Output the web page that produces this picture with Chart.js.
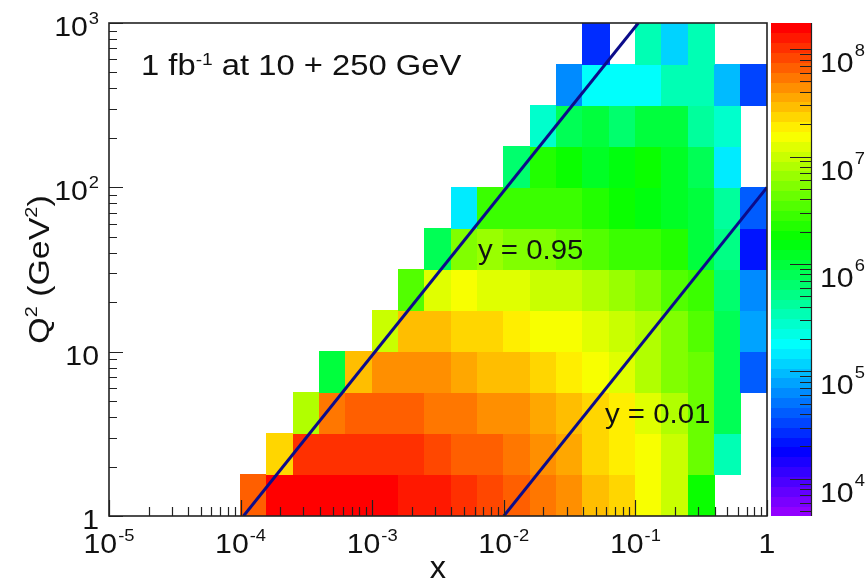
<!DOCTYPE html>
<html>
<head>
<meta charset="utf-8">
<script src="https://cdn.jsdelivr.net/npm/chart.js@4.4.0/dist/chart.umd.min.js"></script>
<style>
  html, body { margin: 0; padding: 0; background: #fff; }
  #wrap { width: 865px; height: 584px; }
</style>
</head>
<body>
<div id="wrap"><canvas id="myChart" width="865" height="584"></canvas></div>
<script>
// x bin edges, 0.2 decade wide, from 1e-4 to 1
const xEdges = [1e-4, 1.585e-4, 2.512e-4, 3.981e-4, 6.310e-4, 1e-3, 1.585e-3, 2.512e-3, 3.981e-3, 6.310e-3,
  1e-2, 1.585e-2, 2.512e-2, 3.981e-2, 6.310e-2, 0.1, 0.1585, 0.2512, 0.3981, 0.6310, 1];
// Q2 bin edges (GeV^2), 0.25 decade wide, from 1 to 1000
const q2Edges = [1, 1.778, 3.162, 5.623, 10, 17.78, 31.62, 56.23, 100, 177.8, 316.2, 562.3, 1000];

// events per bin, one array per Q2 bin (low to high), one value per x bin
const q2Bin1 = [7.4e7, 1.55e8, 1.55e8, 1.55e8, 1.55e8, 1.5e8, 1.3e8, 1.15e8, 1.1e8, 9e7, 6.4e7, 5e7, 4e7, 3e7, 2.2e7, 1.6e7, 1.05e7, 2.0e6, null, null];
const q2Bin2 = [null, 2.6e7, 1.0e8, 1.0e8, 1.0e8, 1.0e8, 1.0e8, 8.6e7, 7.4e7, 6.7e7, 5.8e7, 4.4e7, 3.5e7, 2.6e7, 1.9e7, 1.6e7, 1.04e7, 4.2e6, 3.2e5, null];
const q2Bin3 = [null, null, 7.7e6, 5.8e7, 6.4e7, 6.4e7, 6.4e7, 5.5e7, 5.5e7, 4.7e7, 4.0e7, 3.5e7, 3.0e7, 2.2e7, 1.9e7, 1.2e7, 7.7e6, 4.2e6, 8.0e5, null];
const q2Bin4 = [null, null, null, 9.3e5, 3.0e7, 4.4e7, 4.4e7, 4.0e7, 3.8e7, 3.2e7, 3.0e7, 2.6e7, 1.9e7, 1.6e7, 1.2e7, 8.9e6, 5.7e6, 4.2e6, 8.0e5, 4.5e4];
const q2Bin5 = [null, null, null, null, null, 1.04e7, 3.0e7, 3.0e7, 2.6e7, 2.6e7, 1.9e7, 1.6e7, 1.4e7, 1.2e7, 1.04e7, 7.7e6, 5.7e6, 3.6e6, 8.0e5, 8.3e4];
const q2Bin6 = [null, null, null, null, null, null, 3.4e6, 1.2e7, 1.6e7, 1.2e7, 1.2e7, 1.04e7, 1.0e7, 7.7e6, 6.6e6, 4.9e6, 3.6e6, 3.1e6, 6.8e5, 6.1e4];
const q2Bin7 = [null, null, null, null, null, null, null, 8.0e5, 5.7e6, 6.6e6, 5.7e6, 4.9e6, 4.2e6, 3.6e6, 3.1e6, 2.7e6, 2.3e6, 9.3e5, 5.1e5, 2.1e4];
const q2Bin8 = [null, null, null, null, null, null, null, null, 1.5e5, 2.7e6, 3.1e6, 3.1e6, 2.7e6, 2.3e6, 1.7e6, 1.46e6, 1.25e6, 9.3e5, 4.4e5, 4.5e4];
const q2Bin9 = [null, null, null, null, null, null, null, null, null, null, 5.9e5, 2.3e6, 2.0e6, 1.25e6, 1.46e6, 1.7e6, 1.25e6, 8.0e5, 1.5e5, null];
const q2Bin10 = [null, null, null, null, null, null, null, null, null, null, null, 2.8e5, 8.0e5, 9.3e5, 5.9e5, 1.08e6, 9.3e5, 4.4e5, 2.8e5, null];
const q2Bin11 = [null, null, null, null, null, null, null, null, null, null, null, null, 6.1e4, 1.76e5, 2.0e5, 2.0e5, 3.7e5, 3.7e5, 9.6e4, 3.3e4];
const q2Bin12 = [null, null, null, null, null, null, null, null, null, null, null, null, null, 2.5e4, null, 3.7e5, 1.1e5, 3.7e5, null, null];

// lines of constant inelasticity, Q2 = s x y with s = 4 * 10 * 250 GeV^2
const yHighX = [1.0526e-4, 0.10526];
const yHighQ2 = [1, 1000];
const yLowX = [0.01, 1];
const yLowQ2 = [1, 100];

// tick labels
const xTickValues = [1e-5, 1e-4, 1e-3, 1e-2, 1e-1, 1];
const xTickBase = ['10', '10', '10', '10', '10', '1'];
const xTickExp = ['-5', '-4', '-3', '-2', '-1', ''];
const yTickValues = [1, 10, 100, 1000];
const yTickBase = ['1', '10', '10', '10'];
const yTickExp = ['', '', '2', '3'];
const zTickValues = [1e4, 1e5, 1e6, 1e7, 1e8];
const zTickExp = ['4', '5', '6', '7', '8'];

const counts = [q2Bin1, q2Bin2, q2Bin3, q2Bin4, q2Bin5, q2Bin6, q2Bin7, q2Bin8, q2Bin9, q2Bin10, q2Bin11, q2Bin12];

const zMin = 4.5e3;
const zMax = 1.75e8;
const nLevels = 50;
const font = '"Liberation Sans", Arial, sans-serif';
const textColor = '#111';
const axisColor = '#222';
const labelStretch = 1.08;

function levelColor(level) {
  const hue = 280 - (level + 1) * 280 / nLevels;
  return `hsl(${hue}, 100%, 50%)`;
}

function colorFor(v) {
  const t = (Math.log10(v) - Math.log10(zMin)) / (Math.log10(zMax) - Math.log10(zMin));
  const level = Math.max(0, Math.min(nLevels - 1, Math.floor(t * nLevels)));
  return levelColor(level);
}

function stretchedText(ctx, text, x, y, sx) {
  ctx.save();
  ctx.translate(x, y);
  ctx.scale(sx, 1);
  ctx.fillText(text, 0, 0);
  ctx.restore();
}

// "10" with a raised exponent
function drawPower(ctx, base, exp, x, baseline, align, raise) {
  const sx = labelStretch;
  ctx.font = `28px ${font}`;
  const wb = ctx.measureText(base).width * sx;
  ctx.font = `17px ${font}`;
  const we = exp ? ctx.measureText(exp).width * sx + 1 : 0;
  let left = x;
  if (align === 'center') left = x - (wb + we) / 2;
  if (align === 'right') left = x - (wb + we);
  ctx.textAlign = 'left';
  ctx.textBaseline = 'alphabetic';
  ctx.font = `28px ${font}`;
  stretchedText(ctx, base, left, baseline, sx);
  if (exp) {
    ctx.font = `17px ${font}`;
    stretchedText(ctx, exp, left + wb + 1, baseline - raise, sx);
  }
}

// mixed text: parts are [text, isSuperscript]
function drawRich(ctx, parts, x, baseline, size, supSize, raise, align, sx) {
  const widths = parts.map(([t, sup]) => {
    ctx.font = `${sup ? supSize : size}px ${font}`;
    return ctx.measureText(t).width * sx;
  });
  const total = widths.reduce((a, b) => a + b, 0);
  let cur = align === 'center' ? x - total / 2 : x;
  ctx.textAlign = 'left';
  ctx.textBaseline = 'alphabetic';
  parts.forEach(([t, sup], i) => {
    ctx.font = `${sup ? supSize : size}px ${font}`;
    stretchedText(ctx, t, cur, sup ? baseline - raise : baseline, sx);
    cur += widths[i];
  });
}

const heatmapPlugin = {
  id: 'heatmap',
  beforeDatasetsDraw(chart) {
    const { ctx, scales: { x, y } } = chart;
    ctx.save();
    counts.forEach((row, j) => {
      row.forEach((v, i) => {
        if (v == null) return;
        const x0 = Math.floor(x.getPixelForValue(xEdges[i]));
        const x1 = Math.ceil(x.getPixelForValue(xEdges[i + 1]));
        const y0 = Math.floor(y.getPixelForValue(q2Edges[j + 1]));
        const y1 = Math.ceil(y.getPixelForValue(q2Edges[j]));
        ctx.fillStyle = colorFor(v);
        ctx.fillRect(x0, y0, x1 - x0, y1 - y0);
      });
    });
    ctx.restore();
  },
};

const framePlugin = {
  id: 'frame',
  afterDatasetsDraw(chart) {
    const { ctx, chartArea: a, scales: { x, y } } = chart;
    ctx.save();
    ctx.strokeStyle = axisColor;
    ctx.lineWidth = 1.2;
    ctx.beginPath();
    // x ticks, pointing up from the bottom axis
    for (let d = -5; d <= 0; d++) {
      for (let k = 1; k <= 9; k++) {
        const v = k * Math.pow(10, d);
        if (v > 1) break;
        const px = Math.round(x.getPixelForValue(v)) + 0.5;
        const len = k === 1 ? 16 : 9;
        ctx.moveTo(px, a.bottom);
        ctx.lineTo(px, a.bottom - len);
      }
    }
    // y ticks, pointing right from the left axis
    for (let d = 0; d <= 3; d++) {
      for (let k = 1; k <= 9; k++) {
        const v = k * Math.pow(10, d);
        if (v > 1000) break;
        const py = Math.round(y.getPixelForValue(v)) + 0.5;
        const len = k === 1 ? 14 : 8;
        ctx.moveTo(a.left, py);
        ctx.lineTo(a.left + len, py);
      }
    }
    ctx.stroke();
    ctx.lineWidth = 1.6;
    ctx.strokeRect(a.left, a.top, a.right - a.left, a.bottom - a.top);

    // colour scale
    const cbLeft = a.right + 4;
    const cbRight = a.right + 44;
    const lzMin = Math.log10(zMin);
    const lzMax = Math.log10(zMax);
    const zPix = (v) => a.bottom - (Math.log10(v) - lzMin) / (lzMax - lzMin) * (a.bottom - a.top);
    for (let L = 0; L < nLevels; L++) {
      const yb = a.bottom - L / nLevels * (a.bottom - a.top);
      const yt = a.bottom - (L + 1) / nLevels * (a.bottom - a.top);
      ctx.fillStyle = levelColor(L);
      ctx.fillRect(cbLeft, Math.floor(yt), cbRight - cbLeft, Math.ceil(yb) - Math.floor(yt));
    }
    ctx.strokeStyle = axisColor;
    ctx.lineWidth = 1.2;
    ctx.beginPath();
    ctx.moveTo(cbRight + 0.5, a.top);
    ctx.lineTo(cbRight + 0.5, a.bottom);
    for (let d = 3; d <= 8; d++) {
      for (let k = 1; k <= 9; k++) {
        const v = k * Math.pow(10, d);
        if (v < zMin || v > zMax) continue;
        const py = Math.round(zPix(v)) + 0.5;
        const len = k === 1 ? 21 : 11;
        ctx.moveTo(cbRight, py);
        ctx.lineTo(cbRight - len, py);
      }
    }
    ctx.stroke();

    // tick labels
    ctx.fillStyle = textColor;
    xTickValues.forEach((v, i) => {
      drawPower(ctx, xTickBase[i], xTickExp[i], x.getPixelForValue(v), a.bottom + 37, 'center', 12);
    });
    yTickValues.forEach((v, i) => {
      drawPower(ctx, yTickBase[i], yTickExp[i], a.left - 10, y.getPixelForValue(v) + 13, 'right', 12);
    });
    zTickValues.forEach((v, i) => {
      drawPower(ctx, '10', zTickExp[i], cbRight + 9, zPix(v) + 23, 'left', 16);
    });

    // axis titles
    drawRich(ctx, [['x', false]], (a.left + a.right) / 2, a.bottom + 62, 31, 18, 0, 'center', 1.05);
    ctx.save();
    ctx.translate(a.left - 60, (a.top + a.bottom) / 2);
    ctx.rotate(-Math.PI / 2);
    drawRich(ctx, [['Q', false], ['2', true], [' (GeV', false], ['2', true], [')', false]], 0, 0, 29, 17, 12, 'center', 1.17);
    ctx.restore();

    // annotations
    drawRich(ctx, [['1 fb', false], ['-1', true], [' at 10 + 250 GeV', false]], a.left + 32, a.top + 52, 29, 17, 10, 'left', 1.13);
    drawRich(ctx, [['y = 0.95', false]], a.left + 369, a.top + 236, 28, 17, 0, 'left', 1.05);
    drawRich(ctx, [['y = 0.01', false]], a.left + 496, a.top + 400, 28, 17, 0, 'left', 1.05);
    ctx.restore();
  },
};

const lineColor = '#0c0c8a';

new Chart(document.getElementById('myChart'), {
  type: 'scatter',
  data: {
    datasets: [
      {
        data: yHighX.map((v, i) => ({ x: v, y: yHighQ2[i] })),
        showLine: true,
        borderColor: lineColor,
        borderWidth: 3,
        pointRadius: 0,
      },
      {
        data: yLowX.map((v, i) => ({ x: v, y: yLowQ2[i] })),
        showLine: true,
        borderColor: lineColor,
        borderWidth: 3,
        pointRadius: 0,
      },
    ],
  },
  options: {
    responsive: false,
    animation: false,
    layout: { padding: { left: 109, top: 23, right: 98, bottom: 68 } },
    plugins: { legend: { display: false }, tooltip: { enabled: false } },
    scales: {
      x: { type: 'logarithmic', min: 1e-5, max: 1, display: false },
      y: { type: 'logarithmic', min: 1, max: 1000, display: false },
    },
  },
  plugins: [heatmapPlugin, framePlugin],
});
</script>
</body>
</html>
